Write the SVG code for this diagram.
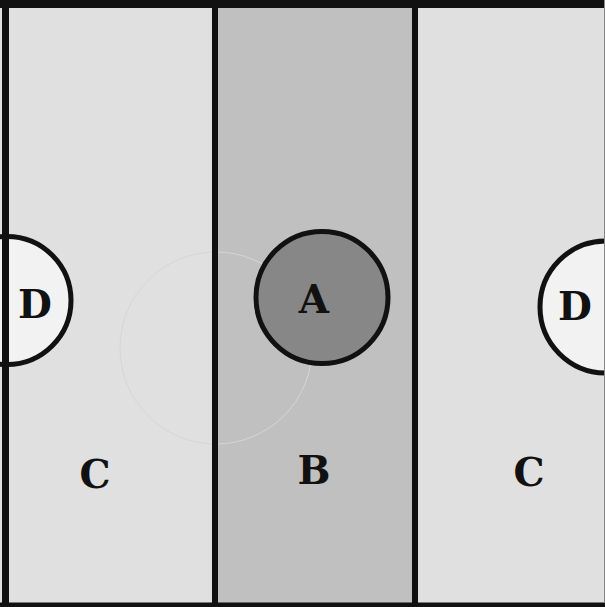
<svg xmlns="http://www.w3.org/2000/svg" width="605" height="607" viewBox="0 0 605 607">
  <style>
    .lbl { font-family: "DejaVu Serif", "Liberation Serif", serif; font-weight: bold; font-size: 39px; fill: #111; text-anchor: middle; }
    .edge { stroke: #111; fill: none; }
  </style>
  <g id="background">
    <rect x="0" y="0" width="605" height="607" fill="#e0e0e0"/>
    <rect x="215" y="0" width="200" height="607" fill="#c0c0c0"/>
    <circle cx="216" cy="348" r="96" fill="none" stroke="#d6d6d6" stroke-width="1"/>
  </g>
  <g id="region-C-left"><text class="lbl" x="95" y="488">C</text></g>
  <g id="region-B"><text class="lbl" x="314" y="484">B</text></g>
  <g id="region-C-right"><text class="lbl" x="529" y="486">C</text></g>
  <g id="node-A">
    <circle cx="322" cy="297.5" r="66" fill="#878787" stroke="#111" stroke-width="5"/>
    <text class="lbl" x="314" y="313">A</text>
  </g>
  <g id="node-D-left">
    <circle cx="7" cy="300.5" r="64" fill="#f2f2f2" stroke="#111" stroke-width="5"/>
    <text class="lbl" x="35" y="318">D</text>
  </g>
  <g id="node-D-right">
    <circle cx="606" cy="307" r="66" fill="#f2f2f2" stroke="#111" stroke-width="5"/>
    <text class="lbl" x="575" y="320">D</text>
  </g>
  <g id="connectors">
    <line class="edge" x1="215" y1="0" x2="215" y2="607" stroke-width="6"/>
    <line class="edge" x1="415" y1="0" x2="415" y2="607" stroke-width="6"/>
    <line class="edge" x1="0" y1="4" x2="605" y2="4" stroke-width="8"/>
    <line class="edge" x1="5.5" y1="0" x2="5.5" y2="607" stroke-width="7"/>
    <line class="edge" x1="0" y1="605" x2="605" y2="605" stroke-width="5"/>
    <line x1="604.5" y1="0" x2="604.5" y2="603" stroke="#888" stroke-width="1"/>
  </g>
</svg>
